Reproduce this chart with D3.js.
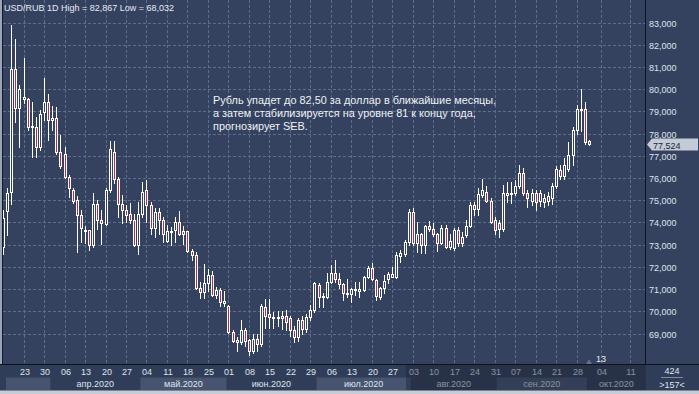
<!DOCTYPE html>
<html lang="ru">
<head>
<meta charset="UTF-8">
<title>USD/RUB 1D</title>
<script src="https://cdnjs.cloudflare.com/ajax/libs/d3/7.8.5/d3.min.js"></script>
<style>
  html, body { margin: 0; padding: 0; background: #34425f; overflow: hidden; }
  svg { display: block; font-family: 'Liberation Sans', Arial, sans-serif; }
</style>
</head>
<body>
<svg id="chart" width="699" height="394"></svg>
<script>
// daily USD/RUB candles, weekdays from 16 Mar 2020 to 1 Oct 2020 (one row = one week)
const opens = [
  72.90, 74.51, 75.35, 80.89, 79.13,
  79.56, 79.56, 78.35, 78.31, 77.41,
  78.98, 79.40, 78.60, 78.68, 77.18,
  77.06, 76.03, 75.48, 75.00, 74.33,
  73.62, 73.65, 73.00, 74.82, 74.10,
  73.92, 75.48, 77.15, 75.94, 74.85,
  74.55, 74.36, 74.13, 73.00, 74.36,
  75.48, 74.78, 73.73, 74.48, 74.10,
  73.18, 73.60, 73.66, 74.00, 73.60,
  73.60, 72.71, 72.55, 71.03, 70.85,
  71.27, 71.63, 70.73, 70.97, 70.36,
  70.22, 69.05, 68.71, 68.60, 69.15,
  68.71, 68.23, 68.75, 68.53, 70.20,
  69.87, 69.73, 69.72, 69.80, 69.80,
  69.68, 69.15, 68.83, 69.60, 69.20,
  69.75, 70.06, 71.19, 70.66, 70.66,
  71.34, 71.74, 71.44, 71.23, 70.81,
  70.78, 70.97, 70.93, 70.96, 71.53,
  71.93, 71.43, 70.66, 71.04, 71.44,
  71.56, 71.56, 72.49, 72.58, 73.10,
  74.45, 73.09, 73.49, 73.00, 73.84,
  73.69, 73.49, 73.09, 73.74, 72.91,
  72.84, 73.66, 73.06, 73.42, 73.84,
  74.78, 74.59, 75.23, 75.38, 74.98,
  74.11, 73.96, 73.71, 75.23, 75.26,
  75.31, 75.64, 76.24, 75.31, 74.98,
  75.31, 74.95, 75.08, 74.95, 75.08,
  75.64, 76.36, 76.10, 76.40, 77.03,
  78.16, 79.05, 79.09, 77.65
];
const highs = [
  74.55, 75.53, 82.87, 82.24, 80.19,
  81.39, 79.59, 79.43, 78.76, 79.06,
  80.48, 79.78, 79.24, 79.20, 77.93,
  77.41, 76.13, 75.53, 75.18, 74.55,
  73.85, 73.68, 75.33, 75.00, 74.55,
  75.53, 77.68, 77.68, 76.06, 75.23,
  74.78, 74.88, 74.36, 74.93, 75.80,
  75.90, 74.93, 74.63, 74.63, 74.25,
  73.88, 73.78, 74.25, 74.50, 73.83,
  73.63, 72.81, 72.67, 71.33, 72.12,
  71.90, 71.80, 71.08, 71.05, 70.90,
  70.28, 69.17, 68.83, 69.60, 69.23,
  68.75, 68.98, 69.00, 70.33, 70.55,
  70.57, 69.95, 70.03, 70.03, 70.07,
  69.80, 69.35, 69.72, 69.80, 69.90,
  70.30, 71.30, 71.26, 70.84, 71.71,
  72.09, 72.31, 71.71, 71.29, 71.44,
  71.04, 71.34, 71.34, 71.59, 72.04,
  72.16, 71.46, 71.11, 71.64, 71.79,
  72.01, 72.68, 72.76, 73.20, 74.60,
  74.65, 74.03, 73.54, 73.87, 74.06,
  73.99, 73.54, 73.87, 73.87, 73.49,
  73.76, 73.80, 73.59, 74.11, 74.93,
  74.93, 75.57, 75.94, 75.64, 75.08,
  74.26, 74.11, 75.69, 75.83, 75.83,
  75.91, 76.58, 76.47, 75.46, 75.50,
  75.46, 75.45, 75.30, 75.35, 75.76,
  76.55, 76.58, 76.90, 77.60, 78.30,
  79.30, 80.00, 79.44, 77.72
];
const lows = [
  72.60, 73.43, 74.85, 78.53, 77.41,
  79.36, 78.16, 76.96, 76.96, 77.26,
  78.60, 77.70, 78.16, 77.10, 76.43,
  75.98, 75.15, 74.88, 72.68, 73.13,
  73.08, 72.75, 72.90, 73.72, 73.05,
  73.88, 75.38, 75.78, 74.25, 73.98,
  74.03, 73.98, 72.93, 72.60, 74.25,
  74.00, 73.50, 73.36, 73.50, 73.13,
  73.10, 72.98, 73.13, 73.43, 73.03,
  72.67, 72.30, 71.00, 70.58, 70.58,
  70.90, 70.67, 70.60, 70.22, 70.22,
  69.02, 68.60, 68.23, 68.53, 68.45,
  68.03, 68.12, 68.23, 68.45, 69.23,
  69.27, 69.23, 69.35, 69.20, 69.18,
  68.87, 68.60, 68.68, 69.00, 69.05,
  69.60, 69.98, 70.20, 70.20, 70.59,
  71.26, 71.34, 71.04, 70.51, 70.66,
  70.44, 70.74, 70.66, 70.93, 71.48,
  71.41, 70.51, 70.54, 70.81, 71.29,
  71.53, 71.50, 72.23, 72.50, 73.00,
  73.00, 72.68, 72.64, 72.64, 73.60,
  73.38, 72.71, 73.01, 72.86, 72.81,
  72.75, 72.95, 72.92, 73.33, 73.80,
  74.35, 74.34, 75.15, 74.90, 73.96,
  73.48, 73.36, 73.60, 74.93, 74.88,
  75.23, 75.53, 75.23, 74.71, 74.80,
  74.56, 74.75, 74.70, 74.80, 74.83,
  75.55, 75.94, 75.95, 76.30, 76.60,
  78.00, 78.10, 77.53, 77.48
];
const closes = [
  74.20, 75.33, 80.89, 79.13, 79.99,
  79.66, 78.31, 78.28, 77.41, 78.86,
  79.40, 78.60, 78.68, 77.18, 76.55,
  76.06, 75.53, 74.96, 74.33, 73.77,
  73.65, 73.00, 74.82, 74.10, 73.98,
  75.48, 77.29, 75.94, 74.85, 74.55,
  74.33, 74.13, 73.00, 74.36, 75.35,
  74.78, 73.73, 74.48, 74.10, 73.50,
  73.63, 73.63, 74.00, 73.50, 73.50,
  72.71, 72.55, 71.05, 70.85, 71.27,
  71.63, 70.73, 70.97, 70.43, 70.46,
  69.05, 68.68, 68.60, 69.15, 68.68,
  68.23, 68.75, 68.53, 70.25, 69.77,
  69.73, 69.75, 69.75, 69.70, 69.50,
  69.18, 68.83, 69.60, 69.20, 69.75,
  70.06, 71.26, 70.66, 70.70, 71.34,
  71.74, 71.44, 71.23, 70.81, 70.84,
  70.99, 71.00, 70.99, 71.56, 71.93,
  71.46, 70.71, 71.04, 71.38, 71.68,
  71.68, 72.53, 72.61, 73.10, 74.45,
  73.09, 73.46, 73.00, 73.84, 73.69,
  73.49, 73.09, 73.74, 72.91, 73.15,
  73.66, 73.06, 73.36, 73.84, 74.78,
  74.59, 75.26, 75.46, 74.98, 74.04,
  73.66, 73.71, 75.31, 75.31, 75.31,
  75.64, 76.24, 75.31, 75.08, 75.31,
  74.93, 75.31, 74.93, 75.20, 75.64,
  76.39, 76.10, 76.60, 77.03, 78.16,
  79.09, 79.12, 77.63, 77.524
];

const firstDay = "2020-03-16";
const yTicks = [69, 70, 71, 72, 73, 74, 75, 76, 77, 78, 79, 80, 81, 82, 83];
const futureTicks = ["2020-10-04", "2020-10-11"];
const monthLabels = ["", "апр.2020", "май.2020", "июн.2020", "июл.2020", "авг.2020", "сен.2020", "окт.2020"];
const title = "USD/RUB 1D High = 82,867 Low = 68,032";
const note = [
  "Рубль упадет до 82,50 за доллар в ближайшие месяцы,",
  "а затем стабилизируется на уровне 81 к концу года,",
  "прогнозирует SEB."
];
const lastPrice = "77,524";

const W = 699, H = 394;
const plotL = 3, plotR = 646, axisY = 364;
const bg = "#34425f", grid = "#5d6d8c", bearFill = "#a8304f";

const svg = d3.select("#chart");

// trading days (weekdays only)
const parse = d3.timeParse("%Y-%m-%d");
const days = [];
for (let d = parse(firstDay); days.length < closes.length; d = d3.timeDay.offset(d, 1)) {
  if (d.getDay() !== 0 && d.getDay() !== 6) days.push(d);
}
const last = closes.length - 1;

const x = d3.scaleLinear().domain([0, last]).range([3.1, 588.9]);
const y = d3.scaleLinear().domain([69, 83]).range([333.5, 22.5]);
const px = i => Math.round(x(i));
const py = v => Math.round(y(v));

// background
svg.append("rect").attr("width", W).attr("height", H).attr("fill", bg);

// ticks: Mondays, then calendar spacing after the last bar
const ticks = days.map((d, i) => ({ d, i })).filter(t => t.d.getDay() === 1 && t.i > 0);
futureTicks.forEach(s => {
  const d = parse(s);
  ticks.push({ d, i: last + d3.timeDay.count(days[last], d) });
});

const gridG = svg.append("g").attr("stroke", grid).attr("stroke-dasharray", "3,2").attr("stroke-width", 1);
gridG.selectAll("line.h").data(yTicks).join("line")
  .attr("x1", plotL).attr("x2", plotR)
  .attr("y1", d => py(d) + 0.5).attr("y2", d => py(d) + 0.5);
gridG.selectAll("line.v").data(ticks).join("line")
  .attr("x1", d => px(d.i) + 0.5).attr("x2", d => px(d.i) + 0.5)
  .attr("y1", 0).attr("y2", axisY);

// annotation
svg.append("g").selectAll("text").data(note).join("text")
  .attr("x", 213).attr("y", (d, i) => 104 + i * 13)
  .attr("fill", "#eef1f6").attr("font-size", 10.9).text(d => d);

// candles
const candles = svg.append("g");
closes.forEach((c, i) => {
  const o = opens[i], cx = px(i);
  const g = candles.append("g");
  g.append("line")
    .attr("x1", cx + 0.5).attr("x2", cx + 0.5)
    .attr("y1", py(highs[i])).attr("y2", py(lows[i]) + 1)
    .attr("stroke", "#fff");
  const top = py(Math.max(o, c)), bot = py(Math.min(o, c));
  g.append("rect")
    .attr("x", cx - 0.5).attr("y", top + 0.5)
    .attr("width", 2).attr("height", Math.max(1, bot - top))
    .attr("fill", c < o ? bearFill : bg)
    .attr("stroke", "#fff");
});

// left frame
svg.append("rect").attr("x", 0).attr("y", 0).attr("width", 2).attr("height", H).attr("fill", "#9aa6b8");
svg.append("line").attr("x1", 2.5).attr("x2", 2.5).attr("y1", 0).attr("y2", H).attr("stroke", "#121a2a");

// title
svg.append("text").attr("x", 4).attr("y", 11).attr("fill", "#e6eaf2").attr("font-size", 9).text(title);

// right price axis
svg.append("line").attr("x1", plotR - 0.5).attr("x2", plotR - 0.5).attr("y1", 0).attr("y2", H)
  .attr("stroke", "#0c121e");
svg.append("g").selectAll("text").data(yTicks).join("text")
  .attr("x", 649).attr("y", d => py(d) + 4)
  .attr("fill", "#dfe4ec").attr("font-size", 9)
  .text(d => d3.format(".3f")(d).replace(".", ","));

// last price marker
const ly = py(closes[last]);
svg.append("path")
  .attr("d", `M647,${ly + 0.5} L652,${ly - 5.5} L698,${ly - 5.5} L698,${ly + 6.5} L652,${ly + 6.5} Z`)
  .attr("fill", "#c3cbd6");
svg.append("text").attr("x", 653).attr("y", ly + 4.5).attr("fill", "#1b2438").attr("font-size", 9).text(lastPrice);

// time axis
const axisG = svg.append("g");
axisG.append("rect").attr("x", 0).attr("y", axisY).attr("width", W).attr("height", H - axisY).attr("fill", "#303d58");

// month bands
const months = [];
days.forEach((d, i) => {
  if (i === 0 || d.getMonth() !== days[i - 1].getMonth()) months.push(i);
});
const bands = months.map((i, k) => ({
  x0: k === 0 ? 6 : x(i) - 2,
  x1: k < months.length - 1 ? x(months[k + 1]) - 2 : plotR,
  label: monthLabels[k],
  light: k % 2 === 0
}));
axisG.selectAll("rect.band").data(bands.filter(b => b.light)).join("rect")
  .attr("x", b => b.x0).attr("y", 377.5).attr("width", b => b.x1 - b.x0).attr("height", 12.5)
  .attr("fill", "#46546f");
axisG.selectAll("text.month").data(bands).join("text")
  .attr("x", b => (b.x0 + b.x1) / 2).attr("y", 387)
  .attr("text-anchor", "middle").attr("fill", "#dfe4ec").attr("font-size", 9)
  .text(b => b.label);
axisG.selectAll("text.day").data(ticks).join("text")
  .attr("x", d => px(d.i) + 1).attr("y", 375)
  .attr("text-anchor", "middle").attr("fill", "#dfe4ec").attr("font-size", 9)
  .text(d => d3.timeFormat("%d")(d.d));

// dimmed part of the time scale
axisG.append("rect").attr("x", 406).attr("y", axisY).attr("width", plotR - 406).attr("height", 27)
  .attr("fill", "#1c2638").attr("opacity", 0.45);

svg.append("line").attr("x1", 0).attr("x2", W).attr("y1", axisY + 0.5).attr("y2", axisY + 0.5)
  .attr("stroke", "#0c121e");

// bars count box
svg.append("text").attr("x", 672).attr("y", 374).attr("text-anchor", "middle")
  .attr("fill", "#dfe4ec").attr("font-size", 9).text("424");
svg.append("line").attr("x1", 661).attr("x2", 683).attr("y1", 377.5).attr("y2", 377.5).attr("stroke", "#7d8ba3");
svg.append("text").attr("x", 672).attr("y", 388).attr("text-anchor", "middle")
  .attr("fill", "#dfe4ec").attr("font-size", 9).text(">157<");

// shift marker
svg.append("path").attr("d", "M586,364 L589,359.5 L592,364 Z").attr("fill", "#66748c");
svg.append("text").attr("x", 601).attr("y", 362).attr("text-anchor", "middle")
  .attr("fill", "#e6eaf2").attr("font-size", 9).text("13");

// bottom frame
svg.append("rect").attr("x", 0).attr("y", 390.5).attr("width", W).attr("height", 4).attr("fill", "#c5ccd6");
</script>
</body>
</html>
